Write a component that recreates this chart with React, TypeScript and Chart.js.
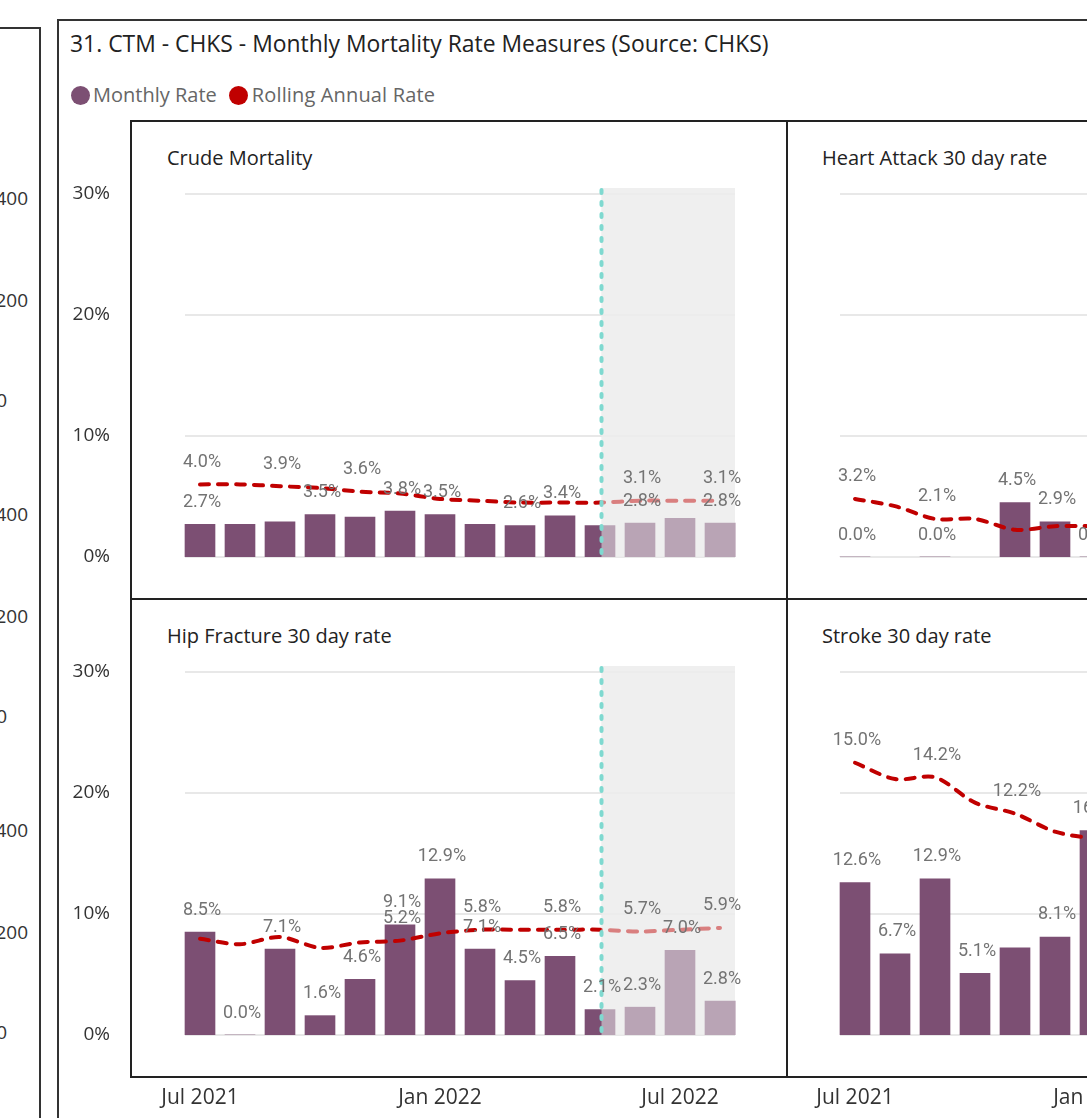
import React, { useEffect, useRef } from 'react';
import { Chart, registerables } from 'chart.js';

Chart.register(...registerables);

// ---------- data ----------
const months = [
  'Jul 2021', 'Aug 2021', 'Sep 2021', 'Oct 2021', 'Nov 2021', 'Dec 2021', 'Jan 2022',
  'Feb 2022', 'Mar 2022', 'Apr 2022', 'May 2022', 'Jun 2022', 'Jul 2022', 'Aug 2022',
];
const xTickLabels = ['Jul 2021', 'Jan 2022', 'Jul 2022'];
const yTickValues = [0, 10, 20, 30];
const forecastStart = 'May 2022';

const crudeMonthly = [2.7, 2.7, 2.9, 3.5, 3.3, 3.8, 3.5, 2.7, 2.6, 3.4, 2.6, 2.8, 3.2, 2.8];
const crudeRolling = [4.0, 4.0, 3.9, 3.8, 3.6, 3.5, 3.2, 3.1, 3.0, 3.0, 3.0, 3.1, 3.1, 3.1];
const crudeBarLabelMonths = ['Jul 2021', 'Oct 2021', 'Dec 2021', 'Jan 2022', 'Mar 2022', 'Apr 2022', 'Jun 2022', 'Aug 2022'];
const crudeLineLabelMonths = ['Jul 2021', 'Sep 2021', 'Nov 2021', 'Jun 2022', 'Aug 2022'];

const heartMonthly = [0.0, null, 0.0, null, 4.5, 2.9, 0.0, null, null, null, null, null, null, null];
const heartRolling = [3.2, 2.8, 2.1, 2.1, 1.5, 1.7, 1.7, null, null, null, null, null, null, null];
const heartBarLabelMonths = ['Jul 2021', 'Sep 2021', 'Nov 2021', 'Dec 2021', 'Jan 2022'];
const heartLineLabelMonths = ['Jul 2021', 'Sep 2021'];

const hipMonthly = [8.5, 0.0, 7.1, 1.6, 4.6, 9.1, 12.9, 7.1, 4.5, 6.5, 2.1, 2.3, 7.0, 2.8];
const hipRolling = [5.3, 5.0, 5.4, 4.8, 5.1, 5.2, 5.6, 5.8, 5.8, 5.8, 5.8, 5.7, 5.8, 5.9];
const hipBarLabelMonths = months;
const hipLineLabelMonths = ['Dec 2021', 'Feb 2022', 'Apr 2022', 'Jun 2022', 'Aug 2022'];

const strokeMonthly = [12.6, 6.7, 12.9, 5.1, 7.2, 8.1, 16.9, null, null, null, null, null, null, null];
const strokeRolling = [15.0, 14.1, 14.2, 12.8, 12.2, 11.2, 10.8, null, null, null, null, null, null, null];
const strokeBarLabelMonths = ['Jul 2021', 'Aug 2021', 'Sep 2021', 'Oct 2021', 'Dec 2021', 'Jan 2022'];
const strokeLineLabelMonths = ['Jul 2021', 'Sep 2021', 'Nov 2021'];

const otherVisualTicks = ['400', '200', '0'];

// ---------- style ----------
const PURPLE = '#7C4F73';
const RED = '#C00000';
const TEAL = '#7FD9D0';
const SHADE = '#EFEFEF';
const GRID = '#E8E8E8';
const LABEL_GRAY = '#737373';
const AXIS_TEXT = '#333333';
const BAR_W = 30;
const FONT = '"Open Sans", "Noto Sans", sans-serif';

const decoPlugin = {
  id: 'deco',
  beforeDatasetsDraw(chart: any) {
    const { ctx, scales } = chart;
    const x = scales.x, y = scales.y;
    const n = chart.data.labels.length;
    const left = x.getPixelForValue(0) - BAR_W / 2;
    const right = x.getPixelForValue(n - 1) + BAR_W / 2;
    const top = y.getPixelForValue(30);
    const bottom = y.getPixelForValue(0);
    const fIdx = chart.data.labels.indexOf(forecastStart);
    ctx.save();
    if (fIdx >= 0) {
      const fx = x.getPixelForValue(fIdx) + 1.5;
      ctx.fillStyle = SHADE;
      ctx.fillRect(fx, top - 6, right - fx, bottom - top + 6);
    }
    ctx.strokeStyle = GRID;
    ctx.lineWidth = 2;
    for (const t of yTickValues) {
      const py = Math.round(y.getPixelForValue(t));
      ctx.beginPath();
      ctx.moveTo(left, py);
      ctx.lineTo(right, py);
      ctx.stroke();
    }
    ctx.restore();
  },
  afterDatasetsDraw(chart: any) {
    const { ctx, scales } = chart;
    const x = scales.x, y = scales.y, y1 = scales.y1;
    const labels: string[] = chart.data.labels;
    const n = labels.length;
    const right = x.getPixelForValue(n - 1) + BAR_W / 2;
    const top = y.getPixelForValue(30);
    const bottom = y.getPixelForValue(0);
    const fIdx = labels.indexOf(forecastStart);
    ctx.save();
    if (fIdx >= 0) {
      const fx = x.getPixelForValue(fIdx) + 1.5;
      ctx.fillStyle = 'rgba(239,239,239,0.53)';
      ctx.fillRect(fx, top - 6, right - fx, bottom - top + 6);
      ctx.strokeStyle = TEAL;
      ctx.lineWidth = 4;
      ctx.lineCap = 'round';
      ctx.setLineDash([3, 9]);
      ctx.beginPath();
      ctx.moveTo(fx, top - 4);
      ctx.lineTo(fx, bottom);
      ctx.stroke();
      ctx.setLineDash([]);
    }
    const cfg = chart.options.plugins.deco;
    ctx.font = '18px Roboto, sans-serif';
    ctx.fillStyle = LABEL_GRAY;
    ctx.textAlign = 'center';
    ctx.textBaseline = 'middle';
    const line = chart.data.datasets[0].data;
    const bars = chart.data.datasets[1].data;
    labels.forEach((m, i) => {
      const px = x.getPixelForValue(i) + 2;
      if (cfg.barLabels.includes(m) && bars[i] != null) {
        ctx.fillText(bars[i].toFixed(1) + '%', px, y.getPixelForValue(bars[i]) - 22);
      }
      if (cfg.lineLabels.includes(m) && line[i] != null) {
        ctx.fillText(line[i].toFixed(1) + '%', px, y1.getPixelForValue(line[i]) - 22);
      }
    });
    ctx.restore();
  },
};

type PanelProps = {
  monthly: (number | null)[];
  rolling: (number | null)[];
  barLabels: string[];
  lineLabels: string[];
  showY: boolean;
  showX: boolean;
  left: number;
  top: number;
  width: number;
  height: number;
  yWidth: number;
  rightPad: number;
};

function Panel(p: PanelProps) {
  const ref = useRef<HTMLCanvasElement>(null);
  useEffect(() => {
    const chart = new Chart(ref.current!, {
      type: 'bar',
      data: {
        labels: months,
        datasets: [
          {
            type: 'line',
            label: 'Rolling Annual Rate',
            data: p.rolling,
            yAxisID: 'y1',
            borderColor: RED,
            borderWidth: 4,
            borderDash: [9, 9],
            borderCapStyle: 'round',
            pointRadius: 0,
            tension: 0.3,
            fill: false,
            order: 0,
          } as any,
          {
            type: 'bar',
            label: 'Monthly Rate',
            data: p.monthly,
            yAxisID: 'y',
            backgroundColor: PURPLE,
            barThickness: BAR_W,
            order: 1,
          } as any,
        ],
      },
      options: {
        responsive: false,
        animation: false,
        layout: { padding: { top: 73, bottom: p.showX ? 0 : 42, left: 0, right: p.rightPad } },
        plugins: {
          legend: { display: false },
          tooltip: { enabled: false },
          deco: { barLabels: p.barLabels, lineLabels: p.lineLabels },
        } as any,
        scales: {
          x: {
            display: p.showX,
            offset: true,
            grid: { display: false, drawTicks: false },
            border: { display: false },
            ticks: {
              autoSkip: false,
              maxRotation: 0,
              padding: 50,
              color: AXIS_TEXT,
              font: { family: FONT, size: 21 },
              callback: (_v: any, i: number) => (xTickLabels.includes(months[i]) ? months[i] : ''),
            },
            afterFit: (s: any) => {
              if (p.showX) s.height = 83;
              s.paddingLeft = 0; s.paddingRight = 0;
            },
          },
          y: {
            display: true,
            min: 0,
            max: 30,
            grid: { display: false, drawTicks: false },
            border: { display: false },
            ticks: {
              display: p.showY,
              stepSize: 10,
              padding: 70,
              color: AXIS_TEXT,
              font: { family: FONT, size: 19 },
              callback: (v: any) => v + '%',
            },
            afterFit: (s: any) => {
              s.width = p.yWidth;
              s.paddingTop = 0; s.paddingBottom = 0;
            },
          },
          y1: { display: false, min: 0, max: 20 },
        },
      } as any,
      plugins: [decoPlugin as any],
    });
    return () => chart.destroy();
  }, []);
  return (
    <canvas
      ref={ref}
      width={p.width}
      height={p.height}
      style={{ position: 'absolute', left: p.left, top: p.top, width: p.width, height: p.height }}
    />
  );
}

const abs = (s: React.CSSProperties): React.CSSProperties => ({ position: 'absolute', ...s });

export default function App() {
  const otherTickRows = [
    { y: 198, r: 28 }, { y: 300, r: 28 }, { y: 400, r: 7 },
  ];
  const groups = [0, 316, 632];
  return (
    <div style={abs({ left: 0, top: 0, width: 1087, height: 1118, overflow: 'hidden', background: '#fff', fontFamily: FONT })}>
      {/* neighbouring visual (cropped) */}
      <div style={abs({ left: -20, top: 27, width: 59, height: 1200, borderTop: '2px solid #333', borderRight: '2px solid #333' })} />
      {groups.map((g) =>
        otherTickRows.map((row, k) => (
          <div key={g + '-' + k} style={abs({ right: 1087 - row.r, top: row.y + g - 12, fontSize: 19, lineHeight: '24px', color: AXIS_TEXT, whiteSpace: 'nowrap' })}>
            {otherVisualTicks[k]}
          </div>
        ))
      )}

      {/* main visual frame */}
      <div style={abs({ left: 57, top: 19, width: 1100, height: 1200, borderTop: '2px solid #333', borderLeft: '2px solid #333' })} />
      <div style={abs({ left: 70, top: 28, fontSize: 22.9, lineHeight: '32px', color: '#222', whiteSpace: 'nowrap' })}>
        31. CTM - CHKS - Monthly Mortality Rate Measures (Source: CHKS)
      </div>
      <div style={abs({ left: 71, top: 84, display: 'flex', alignItems: 'center', fontSize: 20, lineHeight: '22px', color: '#666', whiteSpace: 'nowrap' })}>
        <span style={{ width: 19, height: 19, borderRadius: '50%', background: PURPLE, display: 'inline-block', marginRight: 3 }} />
        <span style={{ marginRight: 12 }}>Monthly Rate</span>
        <span style={{ width: 19, height: 19, borderRadius: '50%', background: RED, display: 'inline-block', marginRight: 4 }} />
        <span style={{ letterSpacing: 0.15 }}>Rolling Annual Rate</span>
      </div>

      {/* small multiples grid */}
      <div style={abs({ left: 130, top: 120, width: 1200, height: 958, border: '2px solid #222', boxSizing: 'border-box' })} />
      <div style={abs({ left: 130, top: 598, width: 1200, height: 2, background: '#222' })} />
      <div style={abs({ left: 786, top: 120, width: 2, height: 958, background: '#222' })} />

      {[
        { t: 'Crude Mortality', x: 167, y: 145 },
        { t: 'Heart Attack 30 day rate', x: 822, y: 145 },
        { t: 'Hip Fracture 30 day rate', x: 167, y: 623 },
        { t: 'Stroke 30 day rate', x: 822, y: 623 },
      ].map((h) => (
        <div key={h.t} style={abs({ left: h.x, top: h.y, fontSize: 20, lineHeight: '26px', color: '#222', whiteSpace: 'nowrap' })}>
          {h.t}
        </div>
      ))}

      <Panel monthly={crudeMonthly} rolling={crudeRolling} barLabels={crudeBarLabelMonths} lineLabels={crudeLineLabelMonths}
        showY={true} showX={false} left={60} top={121} width={727} height={478} yWidth={120} rightPad={47} />
      <Panel monthly={heartMonthly} rolling={heartRolling} barLabels={heartBarLabelMonths} lineLabels={heartLineLabelMonths}
        showY={false} showX={false} left={787} top={121} width={656} height={478} yWidth={48} rightPad={48} />
      <Panel monthly={hipMonthly} rolling={hipRolling} barLabels={hipBarLabelMonths} lineLabels={hipLineLabelMonths}
        showY={true} showX={true} left={60} top={599} width={727} height={519} yWidth={120} rightPad={47} />
      <Panel monthly={strokeMonthly} rolling={strokeRolling} barLabels={strokeBarLabelMonths} lineLabels={strokeLineLabelMonths}
        showY={false} showX={true} left={787} top={599} width={656} height={519} yWidth={48} rightPad={48} />
    </div>
  );
}
